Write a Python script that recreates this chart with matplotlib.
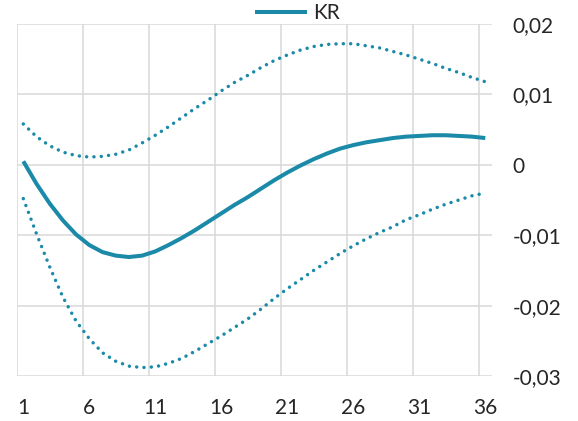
import matplotlib.pyplot as plt
import numpy as np

# horizon (months) and impulse response for KR with bands
months = list(range(1, 37))
kr = [0.0005, -0.0027, -0.0055, -0.0079, -0.0099, -0.0114, -0.0124, -0.0129, -0.0131, -0.0129,
      -0.0123, -0.0114, -0.0104, -0.0093, -0.0081, -0.0069, -0.0057, -0.0046, -0.0034, -0.0022,
      -0.0011, -0.0001, 0.0008, 0.0016, 0.0023, 0.0028, 0.0032, 0.0035, 0.0038, 0.0040,
      0.0041, 0.0042, 0.0042, 0.0041, 0.0040, 0.0038]
kr_upper = [0.0058, 0.0040, 0.0027, 0.0018, 0.0013, 0.0011, 0.0012, 0.0015, 0.0021, 0.0031,
            0.0042, 0.0054, 0.0067, 0.0080, 0.0092, 0.0105, 0.0117, 0.0127, 0.0138, 0.0148,
            0.0156, 0.0163, 0.0168, 0.0171, 0.0172, 0.0172, 0.0169, 0.0166, 0.0161, 0.0156,
            0.0150, 0.0144, 0.0137, 0.0131, 0.0124, 0.0118]
kr_lower = [-0.0048, -0.0098, -0.0145, -0.0188, -0.0222, -0.0247, -0.0267, -0.0279, -0.0286, -0.0288,
            -0.0287, -0.0282, -0.0275, -0.0265, -0.0254, -0.0243, -0.0231, -0.0219, -0.0205, -0.0190,
            -0.0176, -0.0163, -0.0150, -0.0138, -0.0126, -0.0115, -0.0105, -0.0096, -0.0088, -0.0078,
            -0.0071, -0.0063, -0.0056, -0.0050, -0.0044, -0.0040]

x_ticks = [1, 6, 11, 16, 21, 26, 31, 36]
y_ticks = [-0.03, -0.02, -0.01, 0, 0.01, 0.02]
y_tick_labels = ['-0,03', '-0,02', '-0,01', '0', '0,01', '0,02']

color = '#1a8aa8'
text_color = '#262626'
grid_color = '#d9d9d9'

plt.rcParams['font.family'] = ['Lato', 'DejaVu Sans']

fig = plt.figure(figsize=(5.78, 4.21), dpi=100)
ax = fig.add_axes([16.7 / 578, 1 - 376 / 421, (491.9 - 16.7) / 578, (376 - 24) / 421])

# gridlines (category boundaries, Excel style)
for b in np.arange(0.5, 36, 5):
    ax.axvline(b, color=grid_color, lw=1.1, zorder=0)
for v in y_ticks:
    ax.axhline(v, color=grid_color, lw=1.1, zorder=0)

ax.plot(months, kr, color=color, lw=2.9, solid_capstyle='butt', label='KR')
ax.plot(months, kr_upper, color=color, lw=2.5, linestyle=(0, (0.01, 2.1)), dash_capstyle='round')
ax.plot(months, kr_lower, color=color, lw=2.5, linestyle=(0, (0.01, 2.1)), dash_capstyle='round')

ax.set_xlim(0.5, 36.5)
ax.set_ylim(-0.03, 0.02)
ax.set_xticks(x_ticks)
ax.set_xticklabels([str(t) for t in x_ticks])
ax.set_yticks(y_ticks)
ax.set_yticklabels(y_tick_labels)
ax.yaxis.tick_right()
ax.tick_params(axis='y', length=0, pad=15, labelsize=15, labelcolor=text_color)
ax.tick_params(axis='x', length=0, pad=16, labelsize=15, labelcolor=text_color)
for s in ax.spines.values():
    s.set_visible(False)

fig.legend(loc='center left', bbox_to_anchor=(255 / 578, 1 - 13 / 421), frameon=False,
           borderpad=0, borderaxespad=0, handlelength=2.5, handletextpad=0.3,
           prop={'size': 15}, labelcolor=text_color)

fig.savefig('out.png', dpi=100)
